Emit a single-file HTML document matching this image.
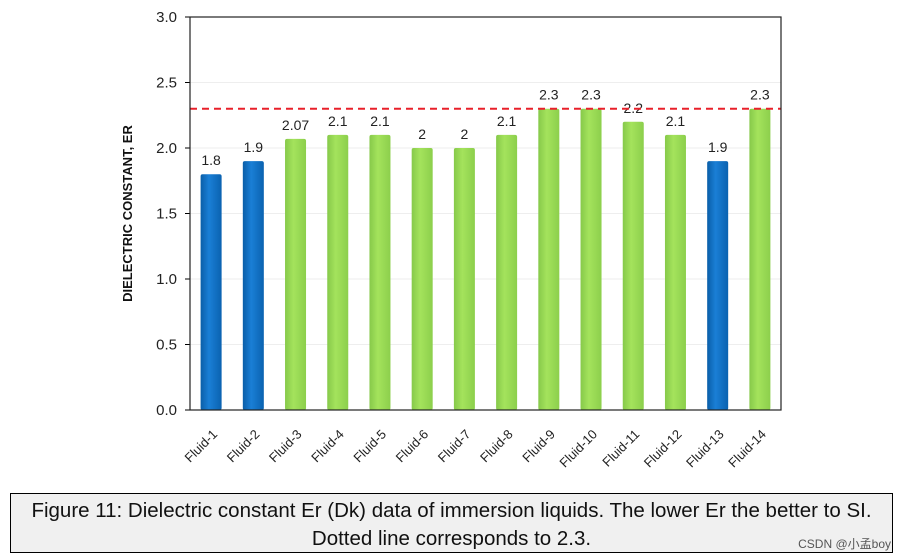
<!DOCTYPE html>
<html><head><meta charset="utf-8"><style>
body{margin:0;background:#fff;width:905px;height:560px;overflow:hidden;font-family:"Liberation Sans",sans-serif}
#cap{position:absolute;left:10px;top:493px;width:883px;height:60px;border:1px solid #000;background:#f0f0f0;text-align:center;font-size:20.5px;line-height:28px;color:#111;box-sizing:border-box;padding-top:3px;white-space:nowrap}
#wm{position:absolute;right:14px;top:535px;font-size:12px;color:#555}
</style></head><body>
<svg id="chart" width="905" height="490" style="position:absolute;left:0;top:0">
<defs>
<linearGradient id="gb" x1="0" x2="1"><stop offset="0" stop-color="#0a5ea8"/><stop offset="0.4" stop-color="#1a7fd6"/><stop offset="1" stop-color="#0a62b0"/></linearGradient>
<linearGradient id="gg" x1="0" x2="1"><stop offset="0" stop-color="#86c94a"/><stop offset="0.4" stop-color="#a4e35c"/><stop offset="1" stop-color="#8ccf4c"/></linearGradient>
</defs>
<g id="grid"></g><g id="bars"></g><g id="labels"></g>
</svg>
<div id="cap">Figure 11: Dielectric constant Er (Dk) data of immersion liquids. The lower Er the better to SI.<br>Dotted line corresponds to 2.3.</div>
<div id="wm">CSDN @小孟boy</div>
<script>
const categories=["Fluid-1","Fluid-2","Fluid-3","Fluid-4","Fluid-5","Fluid-6","Fluid-7","Fluid-8","Fluid-9","Fluid-10","Fluid-11","Fluid-12","Fluid-13","Fluid-14"];
const values=[1.8,1.9,2.07,2.1,2.1,2,2,2.1,2.3,2.3,2.2,2.1,1.9,2.3];
const valueLabels=["1.8","1.9","2.07","2.1","2.1","2","2","2.1","2.3","2.3","2.2","2.1","1.9","2.3"];
const groups=["blue","blue","green","green","green","green","green","green","green","green","green","green","blue","green"];
const yTicks=[0,0.5,1,1.5,2,2.5,3];
const refLine=[2.3];
const NS="http://www.w3.org/2000/svg";
const L=190,R=781,T=17,B=410,yMax=3;
const y=v=>B-(v/yMax)*(B-T);
const bw=(R-L)/categories.length;
const x=i=>L+bw*(i+0.5);
const svg=document.getElementById('chart');
function mk(t,a,p){const e=document.createElementNS(NS,t);for(const k in a)e.setAttribute(k,a[k]);(p||svg).appendChild(e);return e;}
const grid=document.getElementById('grid'),bars=document.getElementById('bars'),labels=document.getElementById('labels');
yTicks.forEach(t=>{
  if(t>0&&t<yMax){const g=mk('line',{x1:L,x2:R,y1:y(t),y2:y(t),stroke:'#eee','stroke-width':1},grid);
  
  }
  const tk=mk('line',{x1:L-5,x2:L,y1:y(t),y2:y(t),stroke:'#000'},grid);
  
  
  const tx=mk('text',{x:L-13,y:y(t)+5,'text-anchor':'end','font-size':15,fill:'#222'},grid);
  tx.textContent=t.toFixed(1);
  
  
});
values.forEach((v,i)=>{
  const w=21;
  const r=mk('rect',{x:x(i)-w/2,y:y(v),width:w,height:B-y(v),rx:2,fill:groups[i]==='blue'?'url(#gb)':'url(#gg)'},bars);
  
  
  const vl=mk('text',{x:x(i),y:y(v)-9,'text-anchor':'middle','font-size':14,fill:'#222'},labels);
  vl.textContent=valueLabels[i];
  
  
  const cx=x(i)+7,cy=B+25;
  const cl=mk('text',{x:cx,y:cy,'text-anchor':'end','font-size':13,fill:'#222',transform:`rotate(-45 ${cx} ${cy})`},labels);
  cl.textContent=categories[i];
  
  
});
const ref=mk('line',{x1:L,x2:R,y1:y(refLine[0]),y2:y(refLine[0]),stroke:'#e8202a','stroke-width':2,'stroke-dasharray':'7,5'});


const fr=mk('rect',{x:L,y:T,width:R-L,height:B-T,fill:'none',stroke:'#222','stroke-width':1.2});


const yt=mk('text',{x:132,y:(T+B)/2,'text-anchor':'middle','font-size':13,'font-weight':'bold',fill:'#111',transform:`rotate(-90 132 ${(T+B)/2})`});
yt.textContent='DIELECTRIC CONSTANT, ER';


</script>
</body></html>
